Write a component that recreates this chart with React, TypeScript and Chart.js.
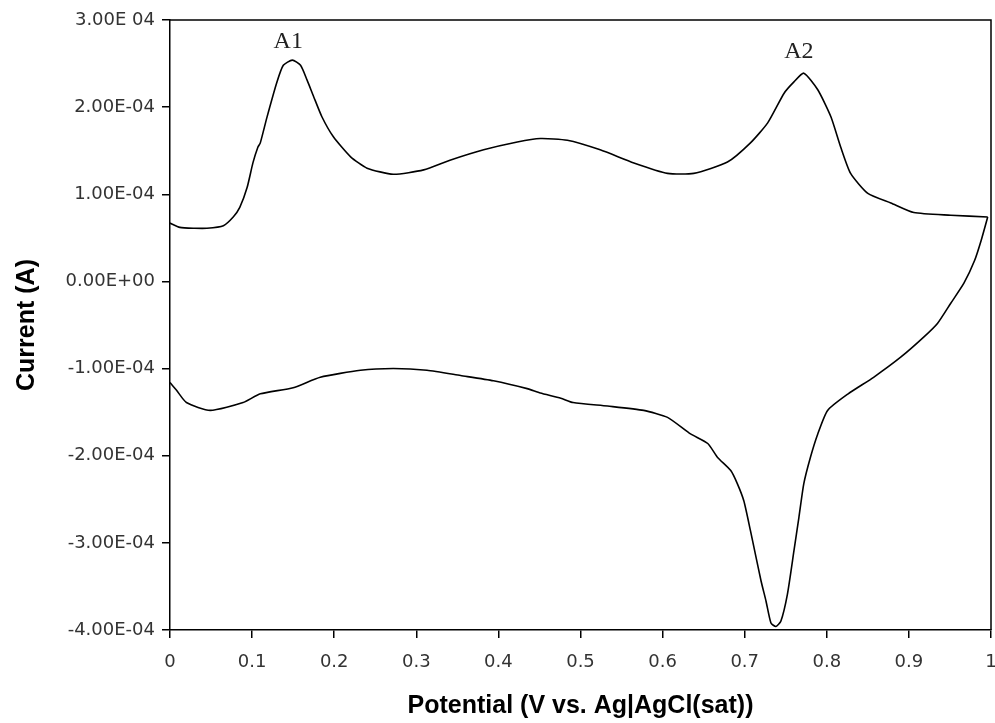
import React, { useEffect, useRef } from "react";
import { Chart, registerables } from "chart.js";

Chart.register(...registerables);

// Anodic sweep (0 V -> 1 V)
const anodicPotential = [
  0, 0.012, 0.03, 0.045, 0.065, 0.077, 0.085, 0.094, 0.101, 0.107, 0.11, 0.118,
  0.13, 0.138, 0.149, 0.159, 0.167, 0.175, 0.185, 0.199, 0.22, 0.24, 0.272,
  0.309, 0.341, 0.382, 0.423, 0.451, 0.484, 0.524, 0.565, 0.606, 0.638, 0.679,
  0.707, 0.728, 0.748, 0.76, 0.772, 0.789, 0.805, 0.817, 0.829, 0.85, 0.878,
  0.906, 0.951, 0.996,
];
const anodicCurrent = [
  0.67e-4, 0.62e-4, 0.61e-4, 0.61e-4, 0.64e-4, 0.74e-4, 0.85e-4, 1.08e-4,
  1.36e-4, 1.54e-4, 1.59e-4, 1.88e-4, 2.28e-4, 2.48e-4, 2.54e-4, 2.48e-4,
  2.31e-4, 2.12e-4, 1.89e-4, 1.66e-4, 1.43e-4, 1.3e-4, 1.23e-4, 1.28e-4,
  1.39e-4, 1.51e-4, 1.6e-4, 1.64e-4, 1.62e-4, 1.51e-4, 1.36e-4, 1.24e-4,
  1.24e-4, 1.37e-4, 1.59e-4, 1.82e-4, 2.16e-4, 2.29e-4, 2.39e-4, 2.2e-4,
  1.89e-4, 1.54e-4, 1.24e-4, 1.01e-4, 0.9e-4, 0.79e-4, 0.76e-4, 0.74e-4,
];

// Cathodic sweep (1 V -> 0 V)
const cathodicPotential = [
  0.996, 0.988, 0.98, 0.967, 0.951, 0.935, 0.918, 0.89, 0.857, 0.826, 0.801,
  0.789, 0.78, 0.772, 0.766, 0.76, 0.752, 0.744, 0.738, 0.732, 0.726, 0.72,
  0.713, 0.707, 0.699, 0.691, 0.683, 0.667, 0.655, 0.634, 0.606, 0.577, 0.533,
  0.491, 0.476, 0.451, 0.435, 0.394, 0.354, 0.313, 0.272, 0.232, 0.183, 0.15,
  0.11, 0.089, 0.049, 0.02, 0.008, 0,
];
const cathodicCurrent = [
  0.74e-4, 0.47e-4, 0.24e-4, -0.02e-4, -0.25e-4, -0.48e-4, -0.64e-4, -0.87e-4,
  -1.1e-4, -1.29e-4, -1.48e-4, -1.75e-4, -2.02e-4, -2.32e-4, -2.71e-4,
  -3.09e-4, -3.59e-4, -3.9e-4, -3.96e-4, -3.92e-4, -3.67e-4, -3.44e-4,
  -3.13e-4, -2.86e-4, -2.52e-4, -2.32e-4, -2.17e-4, -2.02e-4, -1.86e-4,
  -1.75e-4, -1.56e-4, -1.48e-4, -1.43e-4, -1.39e-4, -1.34e-4, -1.28e-4,
  -1.23e-4, -1.14e-4, -1.08e-4, -1.02e-4, -1.0e-4, -1.02e-4, -1.1e-4,
  -1.22e-4, -1.29e-4, -1.39e-4, -1.48e-4, -1.39e-4, -1.25e-4, -1.16e-4,
];

const xTickLabels = ["0", "0.1", "0.2", "0.3", "0.4", "0.5", "0.6", "0.7", "0.8", "0.9", "1"];
const yTickLabels = [
  "-4.00E-04", "-3.00E-04", "-2.00E-04", "-1.00E-04", "0.00E+00",
  "1.00E-04", "2.00E-04", "3.00E 04",
];

const peakLabels = ["A1", "A2"];
const peakLabelPotential = [0.144, 0.766];
const peakLabelCurrent = [2.75e-4, 2.64e-4];

const toPoints = (xs: number[], ys: number[]) => xs.map((x, i) => ({ x, y: ys[i] }));

const frameAndLabels = {
  id: "frameAndLabels",
  afterDraw(chart: any) {
    const { ctx, chartArea, scales } = chart;
    ctx.save();
    ctx.strokeStyle = "#000";
    ctx.lineWidth = 1.5;
    ctx.beginPath();
    ctx.moveTo(chartArea.left, chartArea.top);
    ctx.lineTo(chartArea.right, chartArea.top);
    ctx.lineTo(chartArea.right, chartArea.bottom);
    ctx.stroke();
    ctx.fillStyle = "#222";
    ctx.font = "24px 'Liberation Serif', serif";
    ctx.textAlign = "center";
    ctx.textBaseline = "middle";
    peakLabels.forEach((t, i) => {
      ctx.fillText(
        t,
        scales.x.getPixelForValue(peakLabelPotential[i]),
        scales.y.getPixelForValue(peakLabelCurrent[i])
      );
    });
    ctx.restore();
  },
};

export default function App() {
  const ref = useRef<HTMLCanvasElement | null>(null);

  useEffect(() => {
    if (!ref.current) return;
    Chart.defaults.font.family = "'Liberation Sans', Arial, sans-serif";
    const chart = new Chart(ref.current, {
      type: "scatter",
      data: {
        datasets: [
          {
            label: "Anodic",
            data: toPoints(anodicPotential, anodicCurrent),
            showLine: true,
            borderColor: "#000",
            borderWidth: 1.6,
            pointRadius: 0,
            tension: 0.2,
          },
          {
            label: "Cathodic",
            data: toPoints(cathodicPotential, cathodicCurrent),
            showLine: true,
            borderColor: "#000",
            borderWidth: 1.6,
            pointRadius: 0,
            tension: 0.2,
          },
        ],
      },
      options: {
        animation: false,
        responsive: false,
        layout: { padding: { left: 0, top: 20, right: 4, bottom: 0 } },
        plugins: { legend: { display: false }, tooltip: { enabled: false } },
        scales: {
          x: {
            type: "linear",
            min: 0,
            max: 1,
            afterFit: (scale: any) => {
              scale.height = 93;
              scale.paddingRight = 0;
              scale.paddingLeft = 0;
            },
            ticks: {
              stepSize: 0.1,
              padding: 14,
              color: "#333",
              font: { family: "'DejaVu Sans', sans-serif", size: 18 },
              callback: (_v: any, i: number) => xTickLabels[i],
            },
            grid: {
              drawOnChartArea: false,
              drawTicks: true,
              tickLength: 8,
              color: "#000",
              lineWidth: 1.5,
            },
            border: { display: true, color: "#000", width: 1.5 },
            title: {
              display: true,
              text: "Potential (V vs. Ag|AgCl(sat))",
              color: "#000",
              font: { size: 25, weight: "bold" },
              padding: { top: 0, bottom: 2 },
            },
          },
          y: {
            type: "linear",
            min: -4e-4,
            max: 3e-4,
            afterFit: (scale: any) => {
              scale.width = 170;
            },
            ticks: {
              stepSize: 1e-4,
              padding: 7,
              color: "#333",
              font: { family: "'DejaVu Sans', sans-serif", size: 18 },
              callback: (_v: any, i: number) => yTickLabels[i],
            },
            grid: {
              drawOnChartArea: false,
              drawTicks: true,
              tickLength: 8,
              color: "#000",
              lineWidth: 1.5,
            },
            border: { display: true, color: "#000", width: 1.5 },
            title: {
              display: true,
              text: "Current (A)",
              color: "#000",
              font: { size: 25, weight: "bold" },
              padding: { top: 12, bottom: 0 },
            },
          },
        },
      },
      plugins: [frameAndLabels],
    });
    return () => chart.destroy();
  }, []);

  return (
    <div style={{ position: "absolute", left: 0, top: 0, width: 995, height: 723 }}>
      <canvas ref={ref} width={995} height={723} style={{ display: "block" }} />
    </div>
  );
}
